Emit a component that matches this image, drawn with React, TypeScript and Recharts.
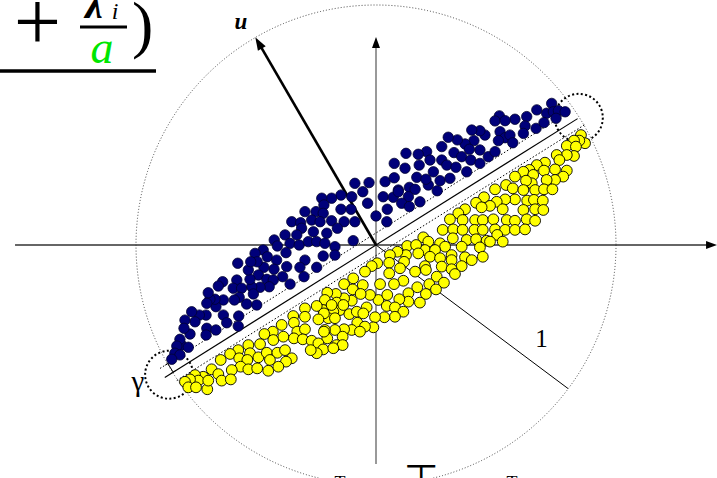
import React from 'react';
import {
  ScatterChart,
  Scatter,
  XAxis,
  YAxis,
  ReferenceLine,
  ReferenceDot,
  Customized,
} from 'recharts';

// Canvas and unit scale (one unit = radius of the enclosing circle)
const W = 717;
const H = 478;
const UNIT = 240;
const ORIGIN_PX = { x: 376, y: 245 };
const X_DOMAIN: [number, number] = [-ORIGIN_PX.x / UNIT, (W - ORIGIN_PX.x) / UNIT];
const Y_DOMAIN: [number, number] = [-(H - ORIGIN_PX.y) / UNIT, ORIGIN_PX.y / UNIT];

// Class +1 (dark blue) samples, unit-circle coordinates
const classPositive: [number, number][] = [
  [0.732, 0.59], [0.711, 0.549], [0.739, 0.555], [0.76, 0.56], [0.788, 0.555], [0.75, 0.528],
  [0.67, 0.563], [0.628, 0.535], [0.579, 0.524], [0.621, 0.496], [0.614, 0.465], [0.667, 0.486],
  [0.7, 0.51], [0.514, 0.538], [0.496, 0.517], [0.538, 0.518], [0.517, 0.472], [0.538, 0.447],
  [0.558, 0.458], [0.57, 0.426], [0.51, 0.435], [0.454, 0.458], [0.433, 0.476], [0.399, 0.479],
  [0.408, 0.435], [0.371, 0.421], [0.339, 0.438], [0.301, 0.449], [0.274, 0.41], [0.325, 0.385],
  [0.357, 0.368], [0.395, 0.354], [0.433, 0.34], [0.468, 0.368], [0.496, 0.389], [0.389, 0.399],
  [0.433, 0.396], [0.211, 0.389], [0.176, 0.378], [0.125, 0.382], [0.225, 0.354], [0.18, 0.333],
  [0.274, 0.354], [0.295, 0.333], [0.333, 0.324], [0.378, 0.305], [0.076, 0.34], [0.121, 0.32],
  [0.17, 0.282], [0.239, 0.305], [0.267, 0.268], [0.308, 0.278], [0.038, 0.264], [0.076, 0.28],
  [0.093, 0.229], [0.139, 0.24], [0.163, 0.232], [0.218, 0.25], [0.208, 0.274], [0.255, 0.226],
  [0.03, 0.201], [0.072, 0.199], [0.135, 0.201], [0.183, 0.18], [0.107, 0.174], [0.139, 0.16],
  [0.047, 0.149],
  [-0.088, 0.257], [-0.029, 0.26], [-0.055, 0.222], [-0.035, 0.174], [-0.101, 0.201], [-0.146, 0.208],
  [-0.185, 0.195], [-0.226, 0.195], [-0.217, 0.167], [-0.25, 0.139], [-0.22, 0.132], [-0.296, 0.139],
  [-0.146, 0.149], [-0.104, 0.149], [-0.133, 0.097], [-0.088, 0.097], [0.0, 0.121], [0.045, 0.097],
  [0.093, 0.222],
  [-0.351, 0.097], [-0.314, 0.093], [-0.268, 0.104], [-0.233, 0.097], [-0.185, 0.101], [-0.161, 0.07],
  [-0.205, 0.049], [-0.261, 0.055], [-0.31, 0.07], [-0.33, 0.042], [-0.379, 0.042], [-0.424, 0.021],
  [-0.358, 0.007], [-0.32, 0.0], [-0.282, 0.014], [-0.247, 0.014], [-0.213, 0.007], [-0.171, -0.007],
  [-0.095, 0.018], [-0.171, -0.042], [-0.22, -0.046], [-0.247, -0.093], [-0.296, -0.063], [-0.375, -0.032],
  [-0.411, -0.004], [-0.47, -0.021], [-0.504, -0.035], [-0.453, -0.049], [-0.414, -0.063], [-0.372, -0.09],
  [-0.317, -0.093], [-0.3, -0.132], [-0.358, -0.163], [-0.389, -0.132], [-0.425, -0.101], [-0.467, -0.093],
  [-0.49, -0.125], [-0.455, -0.143], [-0.428, -0.146], [-0.445, -0.174], [-0.483, -0.176], [-0.518, -0.174],
  [-0.525, -0.143], [-0.532, -0.104], [-0.495, -0.07], [-0.522, -0.07], [-0.576, -0.076], [-0.58, -0.146],
  [-0.595, -0.18], [-0.56, -0.18], [-0.511, -0.204], [-0.497, -0.25], [-0.539, -0.246], [-0.57, -0.218],
  [-0.59, -0.229], [-0.639, -0.153], [-0.657, -0.171], [-0.636, -0.229], [-0.667, -0.257], [-0.671, -0.226],
  [-0.692, -0.226], [-0.705, -0.243], [-0.636, -0.292], [-0.622, -0.324], [-0.572, -0.296], [-0.708, -0.292],
  [-0.736, -0.292], [-0.768, -0.278], [-0.754, -0.32], [-0.705, -0.347], [-0.667, -0.354], [-0.708, -0.375],
  [-0.775, -0.371], [-0.796, -0.313], [-0.81, -0.417],
  [-0.699, -0.199], [-0.574, -0.338], [-0.8, -0.347], [-0.817, -0.393], [-0.83, -0.421], [-0.838, -0.451],
  [-0.817, -0.458], [-0.782, -0.426], [-0.851, -0.476],
];

// Class -1 (yellow) samples, unit-circle coordinates
const classNegative: [number, number][] = [
  [0.854, 0.458], [0.871, 0.424], [0.847, 0.435], [0.825, 0.435], [0.795, 0.413], [0.833, 0.41],
  [0.825, 0.371], [0.795, 0.375], [0.753, 0.375], [0.764, 0.354], [0.704, 0.343], [0.67, 0.333],
  [0.639, 0.313], [0.614, 0.305], [0.655, 0.292], [0.7, 0.31], [0.746, 0.315], [0.795, 0.31],
  [0.78, 0.285], [0.746, 0.271], [0.711, 0.271], [0.649, 0.257], [0.625, 0.268], [0.579, 0.285],
  [0.542, 0.25], [0.57, 0.236], [0.496, 0.232], [0.663, 0.229], [0.7, 0.232], [0.735, 0.232],
  [0.614, 0.229], [0.63, 0.185], [0.658, 0.188], [0.695, 0.185], [0.579, 0.19], [0.538, 0.19],
  [0.503, 0.18], [0.45, 0.199], [0.417, 0.176], [0.475, 0.163], [0.44, 0.157], [0.528, 0.149],
  [0.614, 0.146], [0.663, 0.149], [0.697, 0.146], [0.371, 0.149], [0.343, 0.132], [0.308, 0.107],
  [0.361, 0.104], [0.413, 0.104], [0.445, 0.104], [0.489, 0.107], [0.545, 0.104], [0.579, 0.101],
  [0.628, 0.107], [0.663, 0.101], [0.278, 0.063], [0.322, 0.065], [0.361, 0.063], [0.41, 0.063],
  [0.445, 0.063], [0.496, 0.065], [0.538, 0.063], [0.579, 0.063], [0.621, 0.065], [0.197, 0.032],
  [0.218, 0.014], [0.267, 0.007], [0.288, -0.007], [0.32, 0.028], [0.378, 0.021], [0.417, 0.024],
  [0.461, 0.018], [0.505, 0.042], [0.528, 0.014], [0.204, -0.021], [0.246, -0.021], [0.357, -0.007],
  [0.433, -0.01], [0.475, 0.014], [0.225, -0.049], [0.267, -0.055], [0.315, -0.042], [0.315, -0.063],
  [0.371, -0.051], [0.399, -0.063], [0.445, -0.049], [0.204, -0.088], [0.274, -0.09], [0.357, -0.088],
  [0.13, -0.004], [0.167, 0.0], [0.176, -0.035], [0.125, -0.042], [0.089, -0.028], [0.058, -0.042],
  [0.055, -0.074], [0.117, -0.07], [0.1, -0.097], [0.208, -0.104], [0.315, -0.101], [0.329, -0.121],
  [0.253, -0.132], [0.283, -0.157], [0.222, -0.163], [0.163, -0.111], [0.172, -0.176], [0.25, -0.185],
  [0.208, -0.204], [0.183, -0.24], [0.135, -0.201], [0.135, -0.236], [0.097, -0.226], [0.114, -0.149],
  [0.075, -0.163], [0.055, -0.118], [0.005, -0.076], [-0.018, -0.088], [-0.046, -0.111], [-0.095, -0.139],
  [-0.133, -0.163], [0.017, -0.163], [0.01, -0.229], [0.047, -0.208], [0.045, -0.254], [0.079, -0.26],
  [0.114, -0.278], [0.079, -0.299], [0.035, -0.301], [-0.004, -0.301], [-0.039, -0.26], [-0.025, -0.208],
  [-0.055, -0.167], [-0.097, -0.185], [-0.064, -0.204], [-0.101, -0.232], [-0.133, -0.222], [-0.167, -0.204],
  [-0.203, -0.199], [-0.213, -0.229], [-0.164, -0.24], [-0.15, -0.271], [-0.111, -0.288], [-0.178, -0.278],
  [-0.199, -0.305], [-0.22, -0.271], [-0.08, -0.278], [-0.053, -0.285], [-0.078, -0.324], [-0.011, -0.343],
  [-0.046, -0.34], [-0.101, -0.354], [-0.133, -0.351], [-0.171, -0.354], [-0.213, -0.354], [-0.139, -0.382],
  [-0.067, -0.361], [-0.203, -0.389], [-0.164, -0.417],
  [-0.296, -0.264], [-0.296, -0.299], [-0.345, -0.296], [-0.342, -0.324], [-0.247, -0.254], [-0.217, -0.285],
  [-0.185, -0.25], [-0.24, -0.31], [-0.171, -0.305], [-0.136, -0.25], [-0.393, -0.333], [-0.43, -0.361],
  [-0.465, -0.371], [-0.428, -0.396], [-0.386, -0.382], [-0.328, -0.361], [-0.296, -0.351], [-0.342, -0.389],
  [-0.305, -0.393], [-0.268, -0.399], [-0.24, -0.41], [-0.22, -0.435], [-0.247, -0.451], [-0.272, -0.438],
  [-0.217, -0.361], [-0.139, -0.417], [-0.178, -0.43], [-0.532, -0.417], [-0.483, -0.413], [-0.525, -0.451],
  [-0.49, -0.468], [-0.455, -0.449], [-0.411, -0.449], [-0.379, -0.438], [-0.351, -0.472], [-0.375, -0.486],
  [-0.442, -0.479], [-0.574, -0.438], [-0.608, -0.454], [-0.57, -0.472], [-0.536, -0.479], [-0.647, -0.479],
  [-0.564, -0.507], [-0.532, -0.518], [-0.495, -0.514], [-0.449, -0.524], [-0.407, -0.507], [-0.601, -0.521],
  [-0.685, -0.518], [-0.657, -0.538], [-0.643, -0.565], [-0.605, -0.56], [-0.72, -0.549], [-0.754, -0.542],
  [-0.74, -0.565], [-0.775, -0.56], [-0.796, -0.57], [-0.782, -0.593], [-0.75, -0.593], [-0.703, -0.601],
  [-0.699, -0.565],
];

// Separating hyperplane through the origin, and its two margin lines
const SLOPE = 0.627;
const HYPERPLANE_X: [number, number] = [-0.88, 0.84];
const MARGIN_POS = 0.05; // vertical offset of the +1 margin
const MARGIN_NEG = -0.044; // vertical offset of the -1 margin
const MARGIN_POS_X: [number, number] = [-0.9, 0.8];
const MARGIN_NEG_X: [number, number] = [-0.83, 0.87];
// centres of the two dotted end loops
const END_LOOPS = [-0.862, 0.845];

// Normal vector u and the radius marker
const U_TIP = { x: -0.503, y: 0.866 };
const RADIUS_TIP = { x: 0.8, y: -0.598 };

// Coordinate axes
const AXIS_H: [number, number] = [-1.504, 1.4];
const AXIS_V: [number, number] = [-0.9125, 0.85];

const toPoints = (arr: [number, number][]) => arr.map(([x, y]) => ({ x, y }));
const positiveData = toPoints(classPositive);
const negativeData = toPoints(classNegative);

const arrowHeads = [
  { x: 0, y: 0.867, angle: 90, len: 11, wid: 8 },
  { x: 1.421, y: 0, angle: 0, len: 11, wid: 8 },
  { x: U_TIP.x, y: U_TIP.y, angle: 120.2, len: 13, wid: 9 },
];

const BlueDot = (p: any) => (
  <circle cx={p.cx} cy={p.cy} r={5.2} fill="#00007a" stroke="#000030" strokeWidth={0.8} />
);
const YellowDot = (p: any) => (
  <circle cx={p.cx} cy={p.cy} r={5.4} fill="#ffff00" stroke="#000" strokeWidth={0.9} />
);

const ArrowHead = (p: any) => {
  const { cx, cy, payload } = p;
  const a = (payload.angle * Math.PI) / 180;
  const ux = Math.cos(a);
  const uy = -Math.sin(a);
  const bx = cx - ux * payload.len;
  const by = cy - uy * payload.len;
  const nx = -uy * (payload.wid / 2);
  const ny = ux * (payload.wid / 2);
  return (
    <polygon
      points={`${cx},${cy} ${bx + nx},${by + ny} ${bx - nx},${by - ny}`}
      fill="#000"
    />
  );
};

// data -> pixel helper for labels anchored to the geometry
const px = (x: number, y: number) => ({ x: ORIGIN_PX.x + x * UNIT, y: ORIGIN_PX.y - y * UNIT });

const Annotations = () => {
  // margin-width marker near the lower-left end of the hyperplane
  const theta = Math.atan(SLOPE);
  const nX = -Math.sin(theta);
  const nY = Math.cos(theta);
  const baseX = -0.845;
  const base = { x: baseX, y: baseX * SLOPE };
  const gap = MARGIN_POS * Math.cos(theta);
  const a = px(base.x, base.y);
  const b = px(base.x + nX * gap, base.y + nY * gap);
  const tx = Math.cos(theta) * 3;
  const ty = -Math.sin(theta) * 3;
  return (
    <g>
      {/* formula fragment */}
      <text x={37.5} y={50} fontFamily="Liberation Serif" fontWeight={300} fontSize={84} textAnchor="middle">+</text>
      <text x={94} y={18} fontFamily="Liberation Serif" fontStyle="italic" fontWeight="bold" fontSize={40} textAnchor="middle">λ</text>
      <text x={115} y={19} fontFamily="Liberation Serif" fontStyle="italic" fontSize={24} textAnchor="middle">i</text>
      <line x1={80} y1={27} x2={127} y2={27} stroke="#000" strokeWidth={3} />
      <text x={102} y={63} fontFamily="Liberation Serif" fontStyle="italic" fontSize={46} fill="#00e600" textAnchor="middle">a</text>
      <text x={132} y={46} fontFamily="Liberation Serif" fontSize={64}>)</text>
      <line x1={0} y1={71} x2={156} y2={71} stroke="#000" strokeWidth={3.5} />

      <text x={241} y={29} fontFamily="Liberation Serif" fontStyle="italic" fontWeight="bold" fontSize={23} textAnchor="middle">u</text>
      <text x={541.5} y={346.5} fontFamily="Liberation Serif" fontSize={25} textAnchor="middle">1</text>
      <text x={138} y={391} fontFamily="Liberation Serif" fontSize={29} textAnchor="middle">γ</text>

      <line x1={a.x} y1={a.y} x2={b.x} y2={b.y} stroke="#000" strokeWidth={1} />
      <line x1={a.x - tx} y1={a.y - ty} x2={a.x + tx} y2={a.y + ty} stroke="#000" strokeWidth={1} />
      <line x1={b.x - tx} y1={b.y - ty} x2={b.x + tx} y2={b.y + ty} stroke="#000" strokeWidth={1} />

      {/* glyph tops at the bottom edge */}
      <text x={421.5} y={493} fontFamily="DejaVu Sans" fontSize={40} textAnchor="middle">⊤</text>
      <text x={340} y={489} fontFamily="Liberation Serif" fontSize={18} textAnchor="middle">T</text>
      <text x={512} y={489} fontFamily="Liberation Serif" fontSize={18} textAnchor="middle">T</text>
    </g>
  );
};

export default function App() {
  return (
    <div style={{ position: 'fixed', left: 0, top: 0, width: W, height: H, background: '#fff' }}>
      <ScatterChart width={W} height={H} margin={{ top: 0, right: 0, bottom: 0, left: 0 }}>
        <XAxis type="number" dataKey="x" domain={X_DOMAIN} hide allowDataOverflow />
        <YAxis type="number" dataKey="y" domain={Y_DOMAIN} hide allowDataOverflow />

        <ReferenceDot x={0} y={0} r={UNIT} fill="none" stroke="#333" strokeWidth={0.9} strokeDasharray="1 2" />

        <ReferenceLine segment={[{ x: AXIS_H[0], y: 0 }, { x: AXIS_H[1], y: 0 }]} stroke="#333" strokeWidth={1.3} />
        <ReferenceLine segment={[{ x: 0, y: AXIS_V[0] }, { x: 0, y: AXIS_V[1] }]} stroke="#777" strokeWidth={1.5} />

        <ReferenceLine
          segment={[{ x: HYPERPLANE_X[0], y: HYPERPLANE_X[0] * SLOPE }, { x: HYPERPLANE_X[1], y: HYPERPLANE_X[1] * SLOPE }]}
          stroke="#000" strokeWidth={1.1}
        />
        <ReferenceLine
          segment={[{ x: MARGIN_POS_X[0], y: MARGIN_POS_X[0] * SLOPE + MARGIN_POS }, { x: MARGIN_POS_X[1], y: MARGIN_POS_X[1] * SLOPE + MARGIN_POS }]}
          stroke="#000" strokeWidth={1} strokeDasharray="1.5 2"
        />
        <ReferenceLine
          segment={[{ x: MARGIN_NEG_X[0], y: MARGIN_NEG_X[0] * SLOPE + MARGIN_NEG }, { x: MARGIN_NEG_X[1], y: MARGIN_NEG_X[1] * SLOPE + MARGIN_NEG }]}
          stroke="#000" strokeWidth={1} strokeDasharray="1.5 2"
        />
        <ReferenceLine segment={[{ x: 0, y: 0 }, RADIUS_TIP]} stroke="#000" strokeWidth={1} />

        {END_LOOPS.map((ex, i) => (
          <ReferenceDot key={i} x={ex} y={ex * SLOPE} r={24} fill="none" stroke="#000" strokeWidth={2} strokeDasharray="2 2.4" />
        ))}

        <Scatter data={positiveData} shape={BlueDot} isAnimationActive={false} />
        <Scatter data={negativeData} shape={YellowDot} isAnimationActive={false} />

        <ReferenceLine segment={[{ x: 0, y: 0 }, { x: U_TIP.x * 0.97, y: U_TIP.y * 0.97 }]} stroke="#000" strokeWidth={2.6} />
        <Scatter data={arrowHeads} shape={ArrowHead} isAnimationActive={false} />

        <Customized component={Annotations} />
      </ScatterChart>
    </div>
  );
}
